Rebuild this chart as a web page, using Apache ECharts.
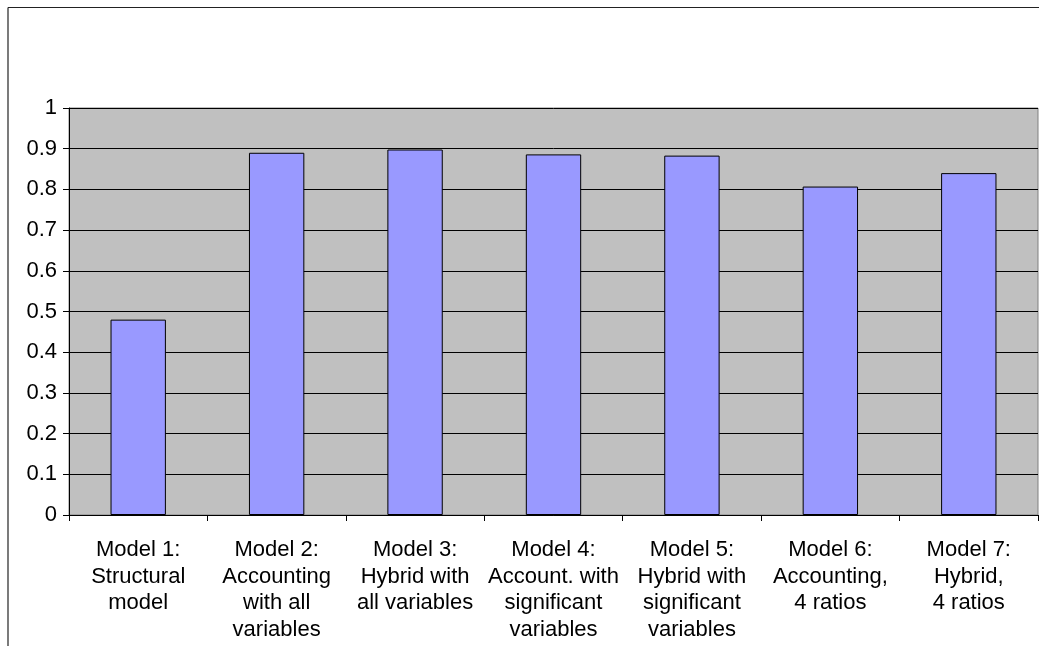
<!DOCTYPE html>
<html><head><meta charset="utf-8">
<script src="https://cdn.jsdelivr.net/npm/echarts@6/dist/echarts.min.js"></script>
<style>html,body{margin:0;padding:0;background:#fff}#c{width:1039px;height:646px}</style>
</head><body><div id="c"></div>
<script>
var categories = [
  "Model 1:\nStructural\nmodel",
  "Model 2:\nAccounting\nwith all\nvariables",
  "Model 3:\nHybrid with\nall variables",
  "Model 4:\nAccount. with\nsignificant\nvariables",
  "Model 5:\nHybrid with\nsignificant\nvariables",
  "Model 6:\nAccounting,\n4 ratios",
  "Model 7:\nHybrid,\n4 ratios"
];
var values = [0.480, 0.890, 0.898, 0.886, 0.883, 0.807, 0.840];
var yTicks = { min: 0, max: 1, interval: 0.1 };

var chart = echarts.init(document.getElementById('c'), null, {renderer: 'canvas'});
chart.setOption({
  animation: false,
  textStyle: { fontFamily: 'Liberation Sans, Arial, sans-serif' },
  grid: { left: 69, top: 108, right: 1, bottom: 131, show: true,
          backgroundColor: '#C0C0C0', borderColor: '#808080', borderWidth: 1 },
  xAxis: {
    type: 'category', data: categories,
    axisLine: { lineStyle: { color: '#000', width: 1 } },
    axisTick: { show: true, length: 6, lineStyle: { color: '#000' } },
    axisLabel: { color: '#000', fontSize: 22, lineHeight: 26.5, margin: 22, interval: 0,
                 fontFamily: 'Liberation Sans, Arial, sans-serif' },
    splitLine: { show: false }
  },
  yAxis: {
    type: 'value', min: yTicks.min, max: yTicks.max, interval: yTicks.interval,
    axisLine: { show: true, lineStyle: { color: '#000', width: 1 } },
    axisTick: { show: true, length: 6, lineStyle: { color: '#000' } },
    axisLabel: { color: '#000', fontSize: 22, margin: 12,
                 fontFamily: 'Liberation Sans, Arial, sans-serif',
                 formatter: function (v) { return String(Math.round(v * 10) / 10); } },
    splitLine: { show: true, lineStyle: { color: '#000', width: 1 } }
  },
  series: [{
    type: 'bar', data: values, barWidth: '40%',
    itemStyle: { color: '#9999FF', borderColor: '#000', borderWidth: 1 }
  }],
  graphic: [
    { type: 'line', shape: { x1: 8, y1: 7.5, x2: 1039, y2: 7.5 }, style: { stroke: '#222', lineWidth: 1.2 } },
    { type: 'line', shape: { x1: 8, y1: 7.5, x2: 8, y2: 646 }, style: { stroke: '#222', lineWidth: 1.2 } }
  ]
});
</script></body></html>
